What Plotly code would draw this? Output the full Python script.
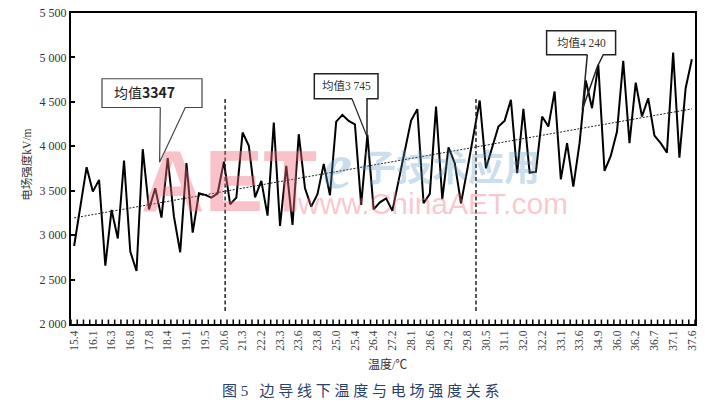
import plotly.graph_objects as go

W, H = 713, 406
L, R, T, B = 70.7, 694.7, 13.3, 324.0

tick_labels = ["15.4","16.1","16.3","16.8","17.8","18.4","19.1","19.5","20.6","21.3","22.2","23.3",
               "23.6","23.8","25.0","25.4","26.4","27.2","28.1","28.6","29.2","29.8","30.5","31.1",
               "32.0","32.2","33.1","33.6","34.9","36.0","36.2","36.7","37.1","37.6"]
field_strength = [2878,3321,3765,3490,3622,2657,3284,2962,3840,2815,
                  2597,3967,3290,3528,3197,3866,3208,2807,3810,3028,
                  3471,3453,3423,3471,3828,3348,3423,4155,4005,3426,
                  3610,3220,4267,3104,3779,3115,4136,3528,3321,3460,
                  3802,3449,4278,4354,4286,4248,3340,4128,3290,3369,
                  3414,3273,3602,3925,4289,4418,3359,3464,4447,3404,
                  3989,3810,3359,3734,4109,4515,3752,3978,4222,4289,
                  4523,3697,4421,3704,3712,4335,4222,4616,3628,4035,
                  3546,4035,4740,4429,4917,3723,3892,4166,4962,4035,
                  4717,4335,4541,4120,4035,3929,5056,3873,4654,4980]
trend_ends = [3194, 4421]
divider_positions = [24.2, 64.4]
divider_span = [2146, 4556]
y_ticks = [2000, 2500, 3000, 3500, 4000, 4500, 5000, 5500]
y_labels = ["2 000", "2 500", "3 000", "3 500", "4 000", "4 500", "5 000", "5 500"]

SERIF = "Liberation Serif, Noto Sans CJK SC"
idx = list(range(len(field_strength)))
boundaries = [i - 0.5 for i in range(len(field_strength) + 1)]

fig = go.Figure()
fig.add_trace(go.Scatter(x=[idx[0], idx[-1]], y=trend_ends, mode="lines",
                         line=dict(color="#222", width=1, dash="2px,1.5px"), hoverinfo="skip"))
fig.add_trace(go.Scatter(x=idx, y=field_strength, mode="lines",
                         line=dict(color="#000", width=2), hoverinfo="skip"))
for d in divider_positions:
    fig.add_trace(go.Scatter(x=[d, d], y=divider_span, mode="lines",
                             line=dict(color="#222", width=1.5, dash="4px,2.5px"), hoverinfo="skip"))
# small category ticks along the bottom axis
fig.add_trace(go.Scatter(x=boundaries, y=[y_ticks[0]] * len(boundaries), mode="markers",
                         marker=dict(size=1, opacity=0), hoverinfo="skip",
                         error_y=dict(type="constant", value=50, symmetric=False, valueminus=0,
                                      width=0, thickness=1.5, color="#000")))


def fx(x):
    return (x - L) / (R - L)


def fy(y):
    return (B - y) / (B - T)


def callout(points, width, color):
    path = "M " + " L ".join(f"{fx(x):.5f},{fy(y):.5f}" for x, y in points)
    fig.add_shape(type="path", path=path, xref="paper", yref="paper",
                  line=dict(color=color, width=width), fillcolor="rgba(0,0,0,0)")


callout([(160, 107.7), (101.7, 107.7), (101.7, 79), (201.7, 79), (201.7, 107.7), (185, 107.7),
         (159.3, 162.3), (160, 107.7)], 1.2, "#444")
callout([(351.7, 99), (314, 99), (314, 74), (377.7, 74), (377.7, 99), (366.7, 99), (366.7, 136.7)], 1.5, "#222")
callout([(351.7, 99), (366.7, 136.7)], 1.2, "#222")
callout([(587, 55), (546.3, 55), (546.3, 31), (615.3, 31), (615.3, 55), (603, 55), (597, 67), (582, 110), (587, 55)], 1.5, "#222")


def text(x, y, s, size, color="#333", family=SERIF, anchor="center", angle=0):
    fig.add_annotation(x=fx(x), y=fy(y), xref="paper", yref="paper", text=s, showarrow=False,
                       xanchor=anchor, yanchor="middle", textangle=angle,
                       font=dict(size=size, color=color, family=family))


# watermark
text(229, 181, "<b>AET</b>", 88, "rgba(240,110,125,0.42)", "Liberation Sans")
text(337, 166, "<b><i>e</i></b>", 66, "rgba(90,150,195,0.32)", "Liberation Serif")
text(450, 165, "<b>子技术应用</b>", 36, "rgba(90,150,195,0.32)", "Noto Sans CJK SC")
text(432, 204, "www.ChinaAET.com", 30, "rgba(240,110,125,0.38)", "Liberation Sans")

text(111.7, 92, "均值<b>3347</b>", 14, "#222", "Noto Sans CJK SC", "left")
text(320, 86.5, "均值3 745", 11.5, "#333", SERIF, "left")
text(555, 43, "均值4 240", 11.5, "#333", SERIF, "left")
text(26.5, 165, "电场强度kV/m", 11.5, "#333", SERIF, angle=-90)
text(386.7, 364, "温度/℃", 12, "#333")
text(361, 391, "图 5   边 导 线 下 温 度 与 电 场 强 度 关 系", 15, "#27406f")

fig.update_layout(
    template="none",
    width=W, height=H, autosize=False, showlegend=False,
    paper_bgcolor="white", plot_bgcolor="white",
    margin=dict(l=L, r=W - R, t=T, b=H - B, pad=0),
    font=dict(family=SERIF, color="#333"),
    xaxis=dict(range=[-0.5, 99.5], tickmode="array", tickvals=idx[::3], ticktext=tick_labels,
               tickangle=-90, ticks="", tickfont=dict(size=11.5, color="#444", family=SERIF),
               automargin=False, showgrid=False, zeroline=False,
               showline=True, linecolor="#000", linewidth=2, mirror=True),
    yaxis=dict(range=[2000, 5500], tickmode="array", tickvals=y_ticks, ticktext=y_labels,
               ticks="inside", ticklen=4, tickwidth=1.5, tickcolor="#000",
               tickfont=dict(size=12, color="#333", family=SERIF), automargin=False,
               showgrid=False, zeroline=False, showline=True, linecolor="#000", linewidth=2, mirror=True),
)
fig.write_html("out.html", config={"displayModeBar": False},
               post_script="document.body.style.margin='0';document.body.style.overflow='hidden';")
